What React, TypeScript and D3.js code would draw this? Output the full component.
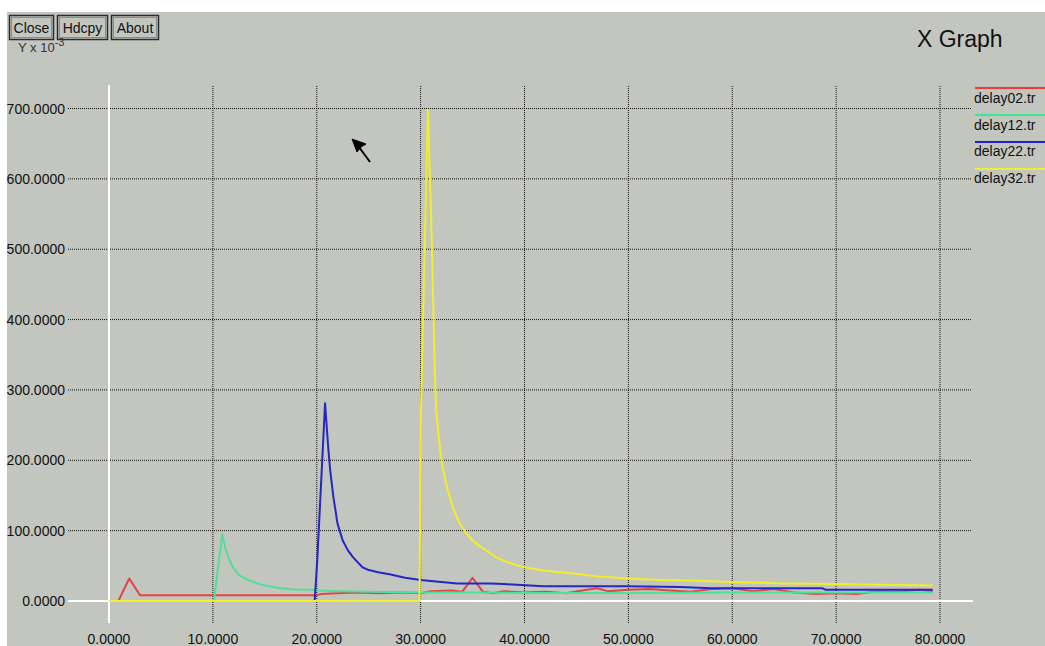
import React from "react";
import * as d3 from "d3";

type Pt = [number, number];

const xTicks = [0, 10, 20, 30, 40, 50, 60, 70, 80];
const yTicks = [0, 100, 200, 300, 400, 500, 600, 700];
const seriesNames = ["delay02.tr", "delay12.tr", "delay22.tr", "delay32.tr"];
const seriesColors = ["#e04646", "#4ee098", "#2626c4", "#f2ee2a"];
const legendColors = ["#f03a3a", "#3ce68c", "#2222c8", "#f0ee30"];
const buttonLabels = ["Close", "Hdcpy", "About"];

const delay02: Pt[] = [
  [0.9, 0], [1.95, 32], [3.0, 8], [10, 8], [19.8, 8], [20.5, 10], [22, 11], [24, 12],
  [26, 11], [28, 12], [30, 11], [31, 14], [33, 15], [34, 13], [35, 33], [36, 13],
  [37, 11], [38, 14], [40, 12], [42, 13], [44, 11], [46, 16], [47, 18], [48, 14],
  [50, 16], [52, 17], [54, 15], [56, 13], [58, 17], [60, 18], [62, 14], [64, 17],
  [66, 12], [68, 10], [70, 11], [72, 10], [74, 14], [76, 13], [78, 16], [79.3, 14],
];
const delay12: Pt[] = [
  [10.1, 0], [10.9, 95], [11.2, 75], [11.6, 58], [12, 46], [12.6, 36], [13.2, 31],
  [13.9, 27], [14.5, 24], [15, 22], [16.5, 18], [18, 16.5], [19.6, 16], [20, 15],
  [22, 14], [25, 13], [30, 12], [35, 12], [40, 11.5], [50, 11.5], [60, 12], [70, 12], [79.3, 12],
];
const delay22: Pt[] = [
  [19.8, 0], [20.05, 58], [20.8, 281], [21.1, 219], [21.3, 185], [21.6, 148], [22, 110],
  [22.5, 86], [23, 72], [23.5, 62], [24.4, 48], [25, 44], [25.9, 41], [27, 38], [28.5, 33],
  [30, 30], [32, 27], [33.5, 25], [36.7, 25], [38, 24], [41.8, 21], [45, 21], [50, 21],
  [55, 20], [58, 18], [68.7, 18], [69, 16], [79.3, 16],
];
const delay32: Pt[] = [
  [0, 0], [29.9, 0], [30.0, 247], [30.7, 698], [31.0, 552], [31.2, 428], [31.4, 310],
  [31.5, 271], [31.8, 225], [32.1, 190], [32.6, 158], [33.1, 133], [33.7, 112], [34.4, 96],
  [35, 86], [35.7, 78], [36.7, 68], [37.3, 62], [38, 57], [39, 52], [40, 48], [42, 43],
  [44.7, 39], [47, 35], [50, 32], [53, 30], [56, 29], [60, 27], [65, 25], [70, 24],
  [74, 23], [79.3, 22],
];
const allSeries = [delay02, delay12, delay22, delay32];

export default function App() {
  const W = 1045, H = 646;
  const x = d3.scaleLinear().domain([0, 80]).range([109, 940]);
  const y = d3.scaleLinear().domain([0, 700]).range([601, 108.5]);
  const line = d3.line<Pt>().x(d => x(d[0])).y(d => y(d[1]));
  const font = "'Liberation Sans', Arial, Helvetica, sans-serif";
  const bg = "#c2c6bf";
  const fmt = d3.format(".4f");
  const btnX = [9, 57, 111];
  const btnW = [44, 50, 47];

  return (
    <svg width={W} height={H} style={{ position: "absolute", left: 0, top: 0, display: "block" }}
      fontFamily={font}>
      <rect x={0} y={0} width={W} height={H} fill="#ffffff" />
      <rect x={7} y={12} width={W - 7} height={H - 12} fill={bg} />

      {/* buttons */}
      {buttonLabels.map((b, i) => (
        <g key={b}>
          <rect x={btnX[i] + 0.5} y={15.5} width={btnW[i]} height={24} fill="none" stroke="#2a2a2a" strokeWidth={1.5} />
          <rect x={btnX[i] + 2.5} y={17.5} width={btnW[i] - 4} height={20} fill="none" stroke="#8a8d88" strokeWidth={1} />
          <text x={btnX[i] + btnW[i] / 2 + 0.5} y={33} textAnchor="middle" fontSize={14} fill="#111">{b}</text>
        </g>
      ))}

      {/* axis unit label */}
      <text x={18} y={52} fontSize={13} fill="#333">
        Y x 10<tspan dy={-6} fontSize={11}>-3</tspan>
      </text>

      {/* title */}
      <text x={917} y={47} fontSize={23} fill="#111">X Graph</text>

      {/* grid */}
      {yTicks.filter(t => t !== 0).map(t => (
        <line key={"gy" + t} x1={68} x2={972} y1={y(t)} y2={y(t)} stroke="#111" strokeWidth={1} strokeDasharray="1,1" />
      ))}
      {xTicks.filter(t => t !== 0).map(t => (
        <line key={"gx" + t} x1={x(t)} x2={x(t)} y1={86} y2={623} stroke="#111" strokeWidth={1} strokeDasharray="1,1" />
      ))}
      {/* zero axes */}
      <line x1={68} x2={973} y1={y(0)} y2={y(0)} stroke="#ffffff" strokeWidth={2} />
      <line x1={x(0)} x2={x(0)} y1={85} y2={623} stroke="#ffffff" strokeWidth={2} />

      {/* tick labels */}
      {yTicks.map(t => (
        <text key={"ly" + t} x={65} y={y(t) + 5} textAnchor="end" fontSize={14} fill="#111">{fmt(t)}</text>
      ))}
      {xTicks.map(t => (
        <text key={"lx" + t} x={x(t)} y={644} textAnchor="middle" fontSize={14} fill="#111">{fmt(t)}</text>
      ))}

      {/* series */}
      {allSeries.map((s, i) => (
        <path key={seriesNames[i]} d={line(s) || ""} fill="none" stroke={seriesColors[i]} strokeWidth={2} strokeLinejoin="round" />
      ))}

      {/* legend */}
      {seriesNames.map((n, i) => (
        <g key={"lg" + n}>
          <line x1={975} x2={1045} y1={88 + i * 27} y2={88 + i * 27} stroke={legendColors[i]} strokeWidth={2} />
          <text x={974} y={103 + i * 26.7} fontSize={14} fill="#111">{n}</text>
        </g>
      ))}

      {/* mouse cursor */}
      <g fill="#000" stroke="#000">
        <polygon points="352,139 366,144 361,147 357,152" strokeWidth={1} />
        <line x1={359} y1={147} x2={370} y2={162} strokeWidth={2} />
      </g>
    </svg>
  );
}
